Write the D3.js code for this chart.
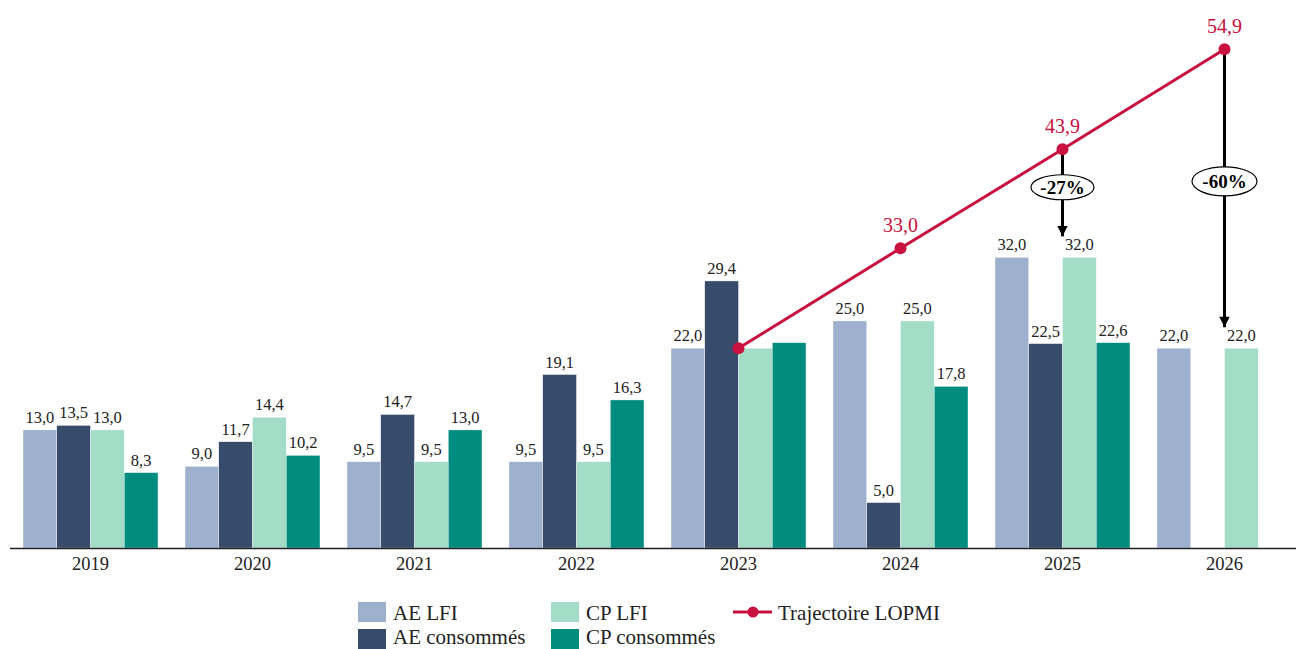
<!DOCTYPE html>
<html>
<head>
<meta charset="utf-8">
<script src="https://cdn.jsdelivr.net/npm/d3@7"></script>
<style>
  html, body { margin: 0; padding: 0; background: #fff; }
  svg { display: block; font-family: "Liberation Serif", "DejaVu Serif", serif; }
</style>
</head>
<body>
<svg id="chart" width="1296" height="649"></svg>
<script>
const years = ["2019", "2020", "2021", "2022", "2023", "2024", "2025", "2026"];
const aeLfi = [13.0, 9.0, 9.5, 9.5, 22.0, 25.0, 32.0, 22.0];
const aeConso = [13.5, 11.7, 14.7, 19.1, 29.4, 5.0, 22.5, null];
const cpLfi = [13.0, 14.4, 9.5, 9.5, 22.0, 25.0, 32.0, 22.0];
const cpConso = [8.3, 10.2, 13.0, 16.3, 22.6, 17.8, 22.6, null];
const lopmiYears = ["2023", "2024", "2025", "2026"];
const lopmi = [22.0, 33.0, 43.9, 54.9];
const lopmiShowLabel = [false, true, true, true];
const hiddenLabels = [["2023", "cpLfi"], ["2023", "cpConso"]];
const gaps = [{ year: "2025", text: "-27%", to: 32.0 }, { year: "2026", text: "-60%", to: 22.0 }];

const seriesNames = ["AE LFI", "AE consommés", "CP LFI", "CP consommés"];
const seriesKeys = ["aeLfi", "aeConso", "cpLfi", "cpConso"];
const seriesValues = [aeLfi, aeConso, cpLfi, cpConso];
const colors = ["#9DB0CE", "#374B6B", "#A3DCC7", "#008C7E"];
const red = "#C8113F";

const svg = d3.select("#chart");
const fmt = v => v.toFixed(1).replace(".", ",");

const x = d3.scaleBand().domain(years).range([9.5, 1305.5]).paddingInner(27 / 162).paddingOuter(27 / 324);
const xs = d3.scaleBand().domain(seriesKeys).range([0, x.bandwidth()]);
const y = d3.scaleLinear().domain([0, 60]).range([548, 3]);

// bars
seriesKeys.forEach((k, si) => {
  const data = years.map((yr, i) => ({ yr, v: seriesValues[si][i] })).filter(d => d.v != null);
  const g = svg.append("g");
  g.selectAll("rect").data(data).join("rect")
    .attr("x", d => x(d.yr) + xs(k))
    .attr("width", xs.bandwidth())
    .attr("y", d => y(d.v))
    .attr("height", d => y(0) - y(d.v))
    .attr("fill", colors[si])
    .attr("stroke", "#fff").attr("stroke-width", 0.4);
  g.selectAll("text").data(data.filter(d => !hiddenLabels.some(h => h[0] === d.yr && h[1] === k))).join("text")
    .attr("x", d => x(d.yr) + xs(k) + xs.bandwidth() / 2)
    .attr("y", d => y(d.v) - 7)
    .attr("text-anchor", "middle")
    .style("font-size", "16.5px")
    .attr("fill", "#222")
    .text(d => fmt(d.v));
});

// axis
const axis = svg.append("g").attr("transform", `translate(0,${y(0)})`)
  .call(d3.axisBottom(x).tickSize(0).tickSizeOuter(0).tickPadding(9));
axis.select(".domain").attr("stroke", "#222").attr("stroke-width", 1.5);
axis.selectAll("text").style("font-size", "18.5px").attr("fill", "#222").style("font-family", "'Liberation Serif', serif");

// arrow marker
const defs = svg.append("defs");
defs.append("marker").attr("id", "arr").attr("viewBox", "0 0 10 10").attr("refX", 10).attr("refY", 5)
  .attr("markerWidth", 3.7).attr("markerHeight", 3.5).attr("markerUnits", "strokeWidth").attr("orient", "auto")
  .append("path").attr("d", "M0,0 L10,5 L0,10 Z").attr("fill", "#000");

const cx = yr => x(yr) + x.bandwidth() / 2;

// gap arrows
gaps.forEach(g => {
  const from = lopmi[lopmiYears.indexOf(g.year)];
  svg.append("line")
    .attr("x1", cx(g.year)).attr("x2", cx(g.year))
    .attr("y1", y(from)).attr("y2", y(g.to) - 21)
    .attr("stroke", "#000").attr("stroke-width", 3)
    .attr("marker-end", "url(#arr)");
});

// LOPMI line
const lineData = lopmiYears.map((yr, i) => ({ yr, v: lopmi[i], show: lopmiShowLabel[i] }));
svg.append("path").datum(lineData)
  .attr("d", d3.line().x(d => cx(d.yr)).y(d => y(d.v)))
  .attr("fill", "none").attr("stroke", red).attr("stroke-width", 3);
svg.selectAll(".pt").data(lineData).join("circle").attr("class", "pt")
  .attr("cx", d => cx(d.yr)).attr("cy", d => y(d.v)).attr("r", 6).attr("fill", red);
svg.selectAll(".plab").data(lineData.filter(d => d.show)).join("text").attr("class", "plab")
  .attr("x", d => cx(d.yr)).attr("y", d => y(d.v) - 16)
  .attr("text-anchor", "middle").style("font-size", "20px").attr("fill", red)
  .text(d => fmt(d.v));

// gap labels (ellipses)
gaps.forEach((g, i) => {
  const from = lopmi[lopmiYears.indexOf(g.year)];
  const ey = i === 0 ? y(from) + 38 : y(from) + 132;
  const gg = svg.append("g");
  gg.append("ellipse").attr("cx", cx(g.year)).attr("cy", ey).attr("rx", i === 0 ? 31.5 : 32.5).attr("ry", i === 0 ? 12.5 : 14.5)
    .attr("fill", "#fff").attr("stroke", "#000").attr("stroke-width", 1.2);
  gg.append("text").attr("x", cx(g.year)).attr("y", ey + 6.5).attr("text-anchor", "middle")
    .style("font-size", "19px").attr("font-weight", "bold").attr("fill", "#000").text(g.text);
});

// legend
const legendItems = [
  { name: seriesNames[0], color: colors[0], x: 358, y: 602, base: 620 },
  { name: seriesNames[1], color: colors[1], x: 358, y: 629, base: 644 },
  { name: seriesNames[2], color: colors[2], x: 551, y: 602, base: 620 },
  { name: seriesNames[3], color: colors[3], x: 551, y: 629, base: 644 }
];
const lg = svg.append("g");
legendItems.forEach(it => {
  lg.append("rect").attr("x", it.x).attr("y", it.y).attr("width", 28).attr("height", 20).attr("fill", it.color);
  lg.append("text").attr("x", it.x + 35).attr("y", it.base).style("font-size", "21px").attr("fill", "#222").text(it.name);
});
lg.append("line").attr("x1", 733).attr("x2", 772).attr("y1", 612).attr("y2", 612).attr("stroke", red).attr("stroke-width", 3);
lg.append("circle").attr("cx", 753).attr("cy", 612).attr("r", 5.5).attr("fill", red);
lg.append("text").attr("x", 778).attr("y", 620).style("font-size", "21px").attr("fill", "#222").text("Trajectoire LOPMI");
</script>
</body>
</html>
